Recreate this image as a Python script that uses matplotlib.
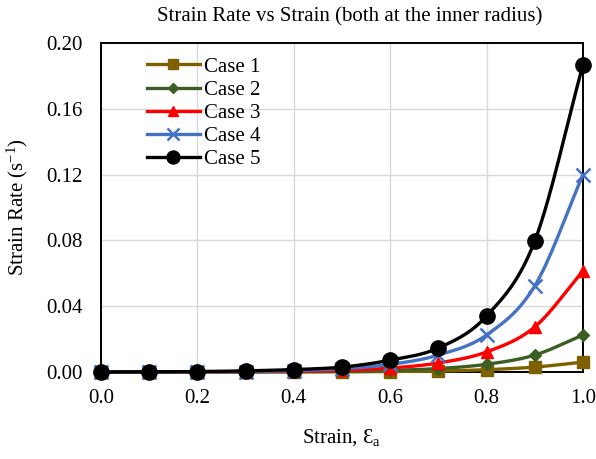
import numpy as np
import matplotlib.pyplot as plt

plt.rcParams['font.family'] = ['Liberation Serif', 'DejaVu Serif']
plt.rcParams['mathtext.fontset'] = 'custom'
plt.rcParams['mathtext.rm'] = 'Liberation Serif'
plt.rcParams['mathtext.it'] = 'Liberation Serif:italic'

# strain at the inner radius
strain = [0.0, 0.1, 0.2, 0.3, 0.4, 0.5, 0.6, 0.7, 0.8, 0.9, 1.0]

# strain rate (1/s) for each case
case1 = [0.0, 0.0, 0.0, 0.0, 0.0001, 0.0001, 0.0003, 0.0006, 0.0014, 0.003, 0.006]
case2 = [0.0, 0.0, 0.0, 0.0001, 0.0002, 0.0004, 0.001, 0.0021, 0.0047, 0.0103, 0.0225]
case3 = [0.0, 0.0, 0.0001, 0.0002, 0.0004, 0.001, 0.0024, 0.0055, 0.0122, 0.0274, 0.0614]
case4 = [0.0, 0.0001, 0.0001, 0.0003, 0.0009, 0.002, 0.0046, 0.0103, 0.0225, 0.0523, 0.1198]
case5 = [0.0, 0.0001, 0.0003, 0.0007, 0.0015, 0.003, 0.0072, 0.0146, 0.034, 0.0796, 0.1866]

labels = ['Case 1', 'Case 2', 'Case 3', 'Case 4', 'Case 5']
series = [case1, case2, case3, case4, case5]
colors = ['#7F6000', '#3B5E24', '#FF0000', '#4472C4', '#000000']
markers = ['s', 'D', '^', 'x', 'o']
msizes = [8, 6, 8.5, 10, 11]


def smooth(x, y, n=30):
    # Catmull-Rom style smoothing, similar to spreadsheet "smoothed line"
    x = np.asarray(x, float)
    y = np.asarray(y, float)
    px = np.concatenate([[2 * x[0] - x[1]], x, [2 * x[-1] - x[-2]]])
    py = np.concatenate([[2 * y[0] - y[1]], y, [2 * y[-1] - y[-2]]])
    xs, ys = [], []
    t = np.linspace(0, 1, n)
    for i in range(1, len(px) - 2):
        p0x, p1x, p2x, p3x = px[i - 1:i + 3]
        p0y, p1y, p2y, p3y = py[i - 1:i + 3]
        # bezier control points
        c1x = p1x + (p2x - p0x) / 6
        c1y = p1y + (p2y - p0y) / 6
        c2x = p2x - (p3x - p1x) / 6
        c2y = p2y - (p3y - p1y) / 6
        bx = (1 - t)**3 * p1x + 3 * (1 - t)**2 * t * c1x + 3 * (1 - t) * t**2 * c2x + t**3 * p2x
        by = (1 - t)**3 * p1y + 3 * (1 - t)**2 * t * c1y + 3 * (1 - t) * t**2 * c2y + t**3 * p2y
        xs.extend(bx)
        ys.extend(by)
    return np.array(xs), np.array(ys)


fig = plt.figure(figsize=(5.96, 4.59), dpi=100)
ax = fig.add_axes([0.1695, 0.1895, 0.8085, 0.7168])

for vals, lab, c, m, ms in zip(series, labels, colors, markers, msizes):
    sx, sy = smooth(strain, vals)
    mew = 1.8 if m == 'x' else 1
    ax.plot(sx, sy, color=c, lw=2.4, clip_on=False, zorder=3)
    ax.plot(strain, vals, color=c, lw=0, marker=m, ms=ms, mew=mew, clip_on=False, zorder=4)
    ax.plot([], [], color=c, lw=2.4, marker=m, ms=ms * 0.85, mew=mew, label=lab)

ax.set_xlim(0, 1.0)
ax.set_ylim(0, 0.20)
ax.set_xticks(np.arange(0, 1.01, 0.2))
ax.set_yticks(np.arange(0, 0.201, 0.04))
ax.set_xticklabels(['%.1f' % v for v in np.arange(0, 1.01, 0.2)])
ax.set_yticklabels(['%.2f' % v for v in np.arange(0, 0.201, 0.04)])
ax.tick_params(axis='x', length=0, labelsize=15, pad=12)
ax.tick_params(axis='y', length=0, labelsize=15, pad=13)
ax.grid(True, color='#D9D9D9', lw=1)
ax.set_axisbelow(True)
for s in ax.spines.values():
    s.set_color('black')
    s.set_linewidth(1.4)

fig.text(350 / 596, 1 - 17 / 459, 'Strain Rate vs Strain (both at the inner radius)',
         fontsize=15, ha='center', va='center')
ax.set_ylabel('Strain Rate (s$^{-1}$)', fontsize=15, labelpad=12)
ax.set_xlabel('Strain, \u0190$_\\mathrm{a}$', fontsize=15, labelpad=14)

ax.legend(loc='upper left', bbox_to_anchor=(0.095, 0.957), frameon=False, fontsize=15,
          handlelength=2.55, handletextpad=0.2, labelspacing=0.17, borderpad=0,
          borderaxespad=0)

fig.savefig('out.png', dpi=100)
